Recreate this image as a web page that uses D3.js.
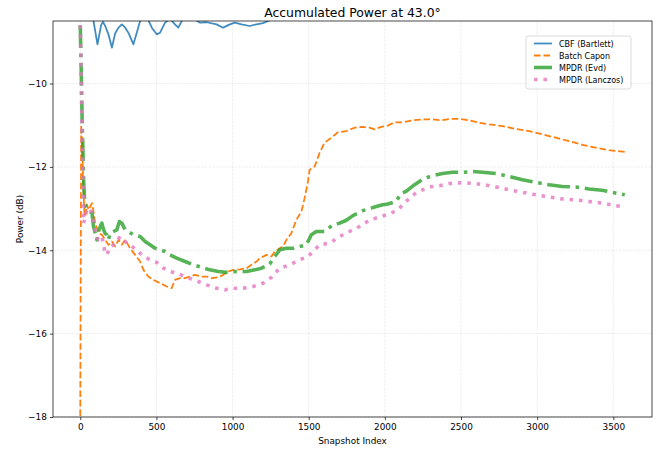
<!DOCTYPE html>
<html>
<head>
<meta charset="utf-8">
<script src="https://cdn.jsdelivr.net/npm/d3@7"></script>
<style>
  body { margin: 0; background: #fff; }
  text { font-family: "DejaVu Sans", sans-serif; }
</style>
</head>
<body>
<div id="chart"></div>
<script>
// ---- data ----
var cbfX = [0, 87, 113, 137, 149, 164, 185, 208, 229, 251, 273, 295, 316, 349, 371, 393, 419, 447, 470, 502, 524, 557, 589, 622, 644, 666, 714, 764, 786, 830, 895, 938, 982, 1015, 1059, 1113, 1157, 1200, 1233, 1300, 1500, 2000, 2500, 3000, 3575];
var cbfY = [-6.0, -8.50, -9.06, -8.60, -8.52, -8.62, -8.82, -9.14, -8.80, -8.66, -8.58, -8.66, -8.78, -9.06, -8.78, -8.50, -8.35, -8.48, -8.66, -8.82, -8.78, -8.54, -8.45, -8.58, -8.66, -8.50, -8.38, -8.49, -8.54, -8.53, -8.58, -8.66, -8.58, -8.54, -8.58, -8.62, -8.58, -8.55, -8.50, -8.40, -8.30, -8.25, -8.20, -8.25, -8.30];

var caponX = [0, 6, 10, 14, 18, 22, 27, 33, 44, 54, 66, 77, 88, 98, 120, 142, 164, 185, 208, 229, 251, 273, 295, 327, 360, 393, 415, 447, 480, 524, 568, 600, 622, 655, 688, 720, 753, 797, 830, 862, 906, 938, 971, 1004, 1050, 1092, 1124, 1157, 1179, 1223, 1255, 1277, 1310, 1331, 1354, 1386, 1419, 1452, 1473, 1495, 1506, 1539, 1572, 1604, 1648, 1692, 1747, 1801, 1855, 1899, 1932, 1976, 2019, 2063, 2117, 2183, 2248, 2314, 2369, 2423, 2489, 2554, 2620, 2685, 2772, 2860, 2947, 3034, 3122, 3209, 3296, 3384, 3471, 3575];
var caponY = [-18.2, -11.0, -11.8, -11.3, -12.4, -12.63, -13.1, -13.19, -12.9, -13.03, -12.95, -12.87, -13.1, -13.35, -13.59, -13.63, -13.75, -13.87, -13.79, -13.91, -13.75, -13.87, -13.75, -13.95, -14.11, -14.27, -14.47, -14.63, -14.71, -14.79, -14.87, -14.91, -14.71, -14.67, -14.67, -14.63, -14.59, -14.63, -14.63, -14.67, -14.65, -14.59, -14.51, -14.47, -14.46, -14.43, -14.35, -14.27, -14.19, -14.11, -14.15, -14.03, -13.95, -13.91, -13.75, -13.59, -13.27, -13.07, -12.75, -12.35, -12.07, -11.99, -11.66, -11.42, -11.30, -11.17, -11.14, -11.06, -11.04, -11.06, -11.10, -11.04, -11.01, -10.93, -10.93, -10.88, -10.86, -10.86, -10.88, -10.85, -10.85, -10.88, -10.94, -10.98, -11.02, -11.09, -11.14, -11.22, -11.30, -11.38, -11.47, -11.54, -11.60, -11.64];

var evdX = [0, 4, 8, 12, 17, 22, 27, 33, 44, 54, 66, 77, 87, 98, 109, 120, 131, 142, 153, 164, 175, 185, 196, 218, 240, 257, 273, 295, 316, 349, 393, 426, 458, 491, 524, 557, 589, 633, 688, 742, 797, 851, 906, 961, 1026, 1092, 1146, 1190, 1244, 1277, 1310, 1354, 1397, 1441, 1485, 1517, 1550, 1604, 1659, 1703, 1747, 1790, 1855, 1910, 1943, 1986, 2019, 2074, 2107, 2139, 2183, 2227, 2248, 2314, 2379, 2445, 2510, 2576, 2641, 2729, 2816, 2903, 2991, 3078, 3165, 3253, 3340, 3427, 3493, 3575];
var evdY = [-8.6, -9.3, -10.0, -10.8, -11.5, -12.3, -12.7, -12.95, -13.0, -13.03, -13.08, -13.11, -13.43, -13.59, -13.75, -13.55, -13.43, -13.35, -13.51, -13.6, -13.63, -13.75, -13.59, -13.55, -13.51, -13.31, -13.35, -13.51, -13.55, -13.63, -13.67, -13.79, -13.87, -13.95, -13.99, -14.03, -14.11, -14.19, -14.27, -14.35, -14.41, -14.47, -14.51, -14.53, -14.51, -14.51, -14.47, -14.43, -14.33, -14.15, -13.99, -13.95, -13.95, -13.91, -13.87, -13.63, -13.55, -13.55, -13.39, -13.35, -13.28, -13.17, -13.05, -12.99, -12.95, -12.91, -12.89, -12.83, -12.63, -12.59, -12.46, -12.35, -12.29, -12.21, -12.16, -12.13, -12.13, -12.11, -12.13, -12.16, -12.23, -12.31, -12.37, -12.43, -12.47, -12.48, -12.53, -12.56, -12.61, -12.67];

var lanczosX = [0, 4, 8, 12, 16, 22, 44, 65, 77, 87, 105, 120, 142, 164, 175, 196, 218, 240, 262, 284, 306, 339, 371, 404, 458, 502, 546, 589, 633, 688, 742, 775, 830, 895, 950, 1004, 1069, 1135, 1200, 1255, 1310, 1375, 1441, 1495, 1572, 1637, 1703, 1768, 1834, 1899, 1965, 2030, 2085, 2139, 2205, 2292, 2358, 2423, 2510, 2587, 2641, 2729, 2816, 2903, 2991, 3078, 3165, 3253, 3340, 3427, 3515, 3575];
var lanczosY = [-8.6, -9.4, -10.3, -11.2, -12.0, -13.35, -13.03, -12.99, -13.15, -13.35, -13.67, -13.75, -13.67, -14.07, -14.11, -13.91, -13.87, -13.79, -13.67, -13.75, -13.83, -13.91, -13.99, -14.11, -14.23, -14.29, -14.43, -14.51, -14.55, -14.63, -14.71, -14.75, -14.83, -14.91, -14.95, -14.91, -14.91, -14.87, -14.79, -14.65, -14.43, -14.35, -14.23, -14.15, -13.87, -13.83, -13.67, -13.55, -13.43, -13.28, -13.2, -13.13, -13.03, -12.83, -12.62, -12.48, -12.45, -12.40, -12.38, -12.40, -12.42, -12.48, -12.55, -12.61, -12.67, -12.72, -12.77, -12.79, -12.83, -12.87, -12.93, -12.96];

var xTicks = [0, 500, 1000, 1500, 2000, 2500, 3000, 3500];
var yTicks = [-18, -16, -14, -12, -10];

var seriesNames = ["CBF (Bartlett)", "Batch Capon", "MPDR (Evd)", "MPDR (Lanczos)"];

// ---- layout ----
var width = 672,
  height = 450;
var margin = { left: 53, right: 20, top: 21, bottom: 33 };
var pw = width - margin.left - margin.right,
  ph = height - margin.top - margin.bottom;
var s = 0.89; // px per pt

var svg = d3.select("#chart")
  .append("svg")
  .attr("width", width)
  .attr("height", height);

var g = svg.append("g")
  .attr("transform", "translate(" + margin.left + "," + margin.top + ")");

var x = d3.scaleLinear().domain([-179, 3754]).range([0, pw]);
var y = d3.scaleLinear().domain([-18, -8.5]).range([ph, 0]);

svg.append("defs").append("clipPath")
  .attr("id", "plotclip")
  .append("rect")
  .attr("width", pw)
  .attr("height", ph);

// grid
g.selectAll(".xgrid")
  .data(xTicks)
  .enter().append("line")
  .attr("x1", function (d) { return x(d) })
  .attr("x2", function (d) { return x(d) })
  .attr("y1", 0)
  .attr("y2", ph)
  .attr("stroke", "#b0b0b0")
  .attr("stroke-opacity", 0.3)
  .attr("stroke-width", 0.8 * s)
  .attr("stroke-dasharray", "2.6,1.1");

g.selectAll(".ygrid")
  .data(yTicks)
  .enter().append("line")
  .attr("x1", 0)
  .attr("x2", pw)
  .attr("y1", function (d) { return y(d) })
  .attr("y2", function (d) { return y(d) })
  .attr("stroke", "#b0b0b0")
  .attr("stroke-opacity", 0.3)
  .attr("stroke-width", 0.8 * s)
  .attr("stroke-dasharray", "2.6,1.1");

function pairs(xs, ys) {
  return xs.map(function (v, i) { return [v, ys[i]] });
}

var line = d3.line()
  .x(function (d) { return x(d[0]) })
  .y(function (d) { return y(d[1]) });

var series = [
  { name: seriesNames[0], pts: pairs(cbfX, cbfY), color: "#1f77b4", lw: 2, dash: null, op: 0.85 },
  { name: seriesNames[1], pts: pairs(caponX, caponY), color: "#ff7f0e", lw: 2, dash: [3.7, 1.6], op: 1 },
  { name: seriesNames[2], pts: pairs(evdX, evdY), color: "#2ca02c", lw: 4, dash: [6.4, 1.6, 1, 1.6], op: 0.8 },
  { name: seriesNames[3], pts: pairs(lanczosX, lanczosY), color: "#e377c2", lw: 4, dash: [1, 1.65], op: 0.8 }
];

function dashStr(d) {
  if (!d.dash) return null;
  return d.dash.map(function (v) { return (v * d.lw * s).toFixed(2) }).join(",");
}

var lines = g.append("g").attr("clip-path", "url(#plotclip)");

lines.selectAll(".series")
  .data(series)
  .enter().append("path")
  .attr("class", "series")
  .attr("d", function (d) { return line(d.pts) })
  .attr("fill", "none")
  .attr("stroke", function (d) { return d.color })
  .attr("stroke-opacity", function (d) { return d.op })
  .attr("stroke-width", function (d) { return d.lw * s })
  .attr("stroke-dasharray", dashStr)
  .attr("stroke-linejoin", "round")
  .attr("stroke-linecap", function (d) { return d.dash ? "butt" : "round" });

// axes
var xAxis = g.append("g")
  .attr("transform", "translate(0," + ph + ")")
  .call(d3.axisBottom(x).tickValues(xTicks).tickSize(3.5 * s).tickPadding(3.5 * s).tickFormat(d3.format("d")));

var yAxis = g.append("g")
  .call(d3.axisLeft(y).tickValues(yTicks).tickSize(3.5 * s).tickPadding(3.5 * s).tickFormat(d3.format("d")));

[xAxis, yAxis].forEach(function (a) {
  a.select(".domain").remove();
  a.selectAll(".tick line").attr("stroke", "#000").attr("stroke-width", 0.8 * s);
  a.selectAll(".tick text").attr("fill", "#000").attr("font-size", "8.9px").attr("font-family", "DejaVu Sans");
});

// spines
g.append("rect")
  .attr("width", pw)
  .attr("height", ph)
  .attr("fill", "none")
  .attr("stroke", "#000")
  .attr("stroke-width", 0.8 * s);

// titles
svg.append("text")
  .attr("x", margin.left + pw / 2)
  .attr("y", 17)
  .attr("text-anchor", "middle")
  .attr("font-size", "12.4px")
  .text("Accumulated Power at 43.0°");

svg.append("text")
  .attr("x", margin.left + pw / 2)
  .attr("y", 444)
  .attr("text-anchor", "middle")
  .attr("font-size", "8.9px")
  .text("Snapshot Index");

svg.append("text")
  .attr("transform", "translate(23," + (margin.top + ph / 2) + ") rotate(-90)")
  .attr("text-anchor", "middle")
  .attr("font-size", "8.9px")
  .text("Power (dB)");

// legend
var leg = svg.append("g").attr("transform", "translate(526,36)");

leg.append("rect")
  .attr("width", 105)
  .attr("height", 53)
  .attr("rx", 2.5)
  .attr("fill", "#fff")
  .attr("fill-opacity", 0.8)
  .attr("stroke", "#cccccc")
  .attr("stroke-width", 0.8 * s);

var items = leg.selectAll(".item")
  .data(series)
  .enter().append("g")
  .attr("class", "item")
  .attr("transform", function (d, i) { return "translate(0," + (7.5 + i * 12) + ")" });

items.append("line")
  .attr("x1", 8)
  .attr("x2", 26)
  .attr("stroke", function (d) { return d.color })
  .attr("stroke-opacity", function (d) { return d.op })
  .attr("stroke-width", function (d) { return d.lw * s })
  .attr("stroke-dasharray", dashStr);

items.append("text")
  .attr("x", 33)
  .attr("y", 3)
  .attr("font-size", "8px")
  .text(function (d) { return d.name });
</script>
</body>
</html>
